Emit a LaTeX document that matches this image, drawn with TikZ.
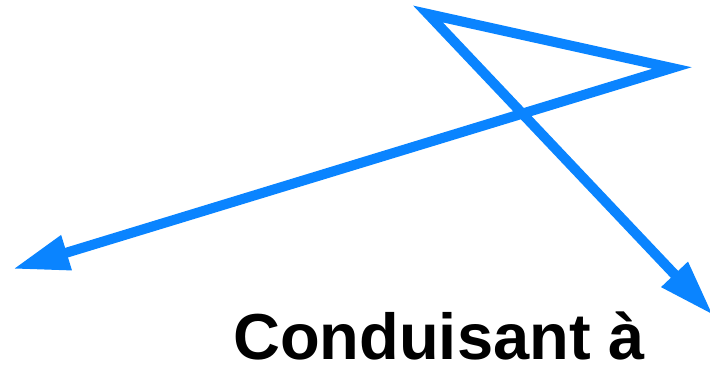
\documentclass[tikz,border=0pt]{standalone}
\usepackage{fontspec}
\setmainfont{Liberation Sans}
\usepackage{tikz}
\usetikzlibrary{arrows.meta}
\definecolor{arrowblue}{RGB}{10,132,255}

\begin{document}
\begin{tikzpicture}[x=1pt,y=-1pt]
  \tikzset{bluepath/.style={draw=arrowblue,line width=10pt,line join=miter,
      arrows={Triangle[length=56pt,width=34pt]-Triangle[length=56pt,width=34pt]}}}
  \tikzset{caption/.style={font=\fontsize{65}{70}\selectfont\bfseries,text=black,inner sep=0pt,text depth=0pt,anchor=base}}
  \useasboundingbox (0,0) rectangle (710,368);

  \coordinate (tipl) at (13,269);
  \coordinate (top) at (428,14);
  \coordinate (right) at (672,68);
  \coordinate (tipr) at (713,315);

  \draw[bluepath] (tipl) -- (right) -- (top) -- (tipr);

  \node[caption] (label) at (439,359) {Conduisant à};
\end{tikzpicture}
\end{document}
